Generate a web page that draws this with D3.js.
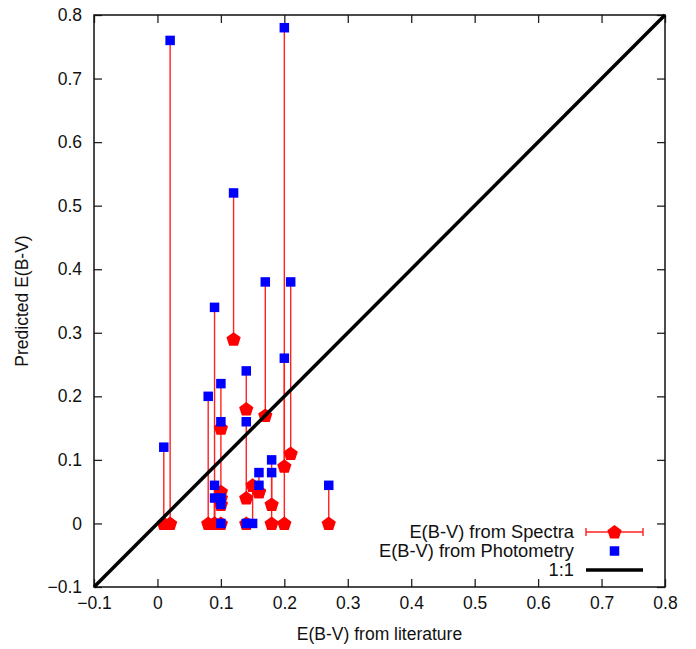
<!DOCTYPE html>
<html><head><meta charset="utf-8">
<script src="https://cdn.jsdelivr.net/npm/d3@7"></script>
<style>body{margin:0;background:#fff}svg{display:block}text{font-family:"Liberation Sans",Arial,sans-serif}</style>
</head><body>
<svg id="c" width="696" height="649"></svg>
<script>
// Literature E(B-V) for each object
const literature = [0.01,0.02,0.08,0.09,0.09,0.09,0.10,0.10,0.10,0.10,0.10,0.12,0.14,0.14,0.14,0.15,0.16,0.16,0.17,0.18,0.18,0.20,0.20,0.21,0.27];
// E(B-V) from spectra (pentagons)
const spectra    = [0.00,0.00,0.00,0.00,0.00,0.00,0.15,0.05,0.04,0.03,0.00,0.29,0.18,0.04,0.00,0.06,0.05,0.05,0.17,0.03,0.00,0.00,0.09,0.11,0.00];
// E(B-V) from photometry (squares)
const photometry = [0.12,0.76,0.20,0.34,0.06,0.04,0.22,0.16,0.04,0.03,0.00,0.52,0.24,0.16,0.00,0.00,0.08,0.06,0.38,0.10,0.08,0.78,0.26,0.38,0.06];
const ticks = [-0.1,0,0.1,0.2,0.3,0.4,0.5,0.6,0.7,0.8];
const legendLabels = ["E(B-V) from Spectra","E(B-V) from Photometry","1:1"];

const FS = 17.5, LFS = 18.3;
const svg = d3.select("#c");
const L=94, R=665, T=15, B=587;
const x = d3.scaleLinear().domain([-0.1,0.8]).range([L,R]);
const y = d3.scaleLinear().domain([-0.1,0.8]).range([B,T]);
const fmt = d => d===0 ? "0" : d3.format(".1f")(d);

// axes
const gx = svg.append("g").attr("transform",`translate(0,${B})`)
  .call(d3.axisBottom(x).tickValues(ticks).tickFormat(fmt).tickSizeInner(-8).tickSizeOuter(0).tickPadding(10));
const gy = svg.append("g").attr("transform",`translate(${L},0)`)
  .call(d3.axisLeft(y).tickValues(ticks).tickFormat(fmt).tickSizeInner(-8).tickSizeOuter(0).tickPadding(12));
const gx2 = svg.append("g").attr("transform",`translate(0,${T})`)
  .call(d3.axisTop(x).tickValues(ticks).tickFormat("").tickSizeInner(-8).tickSizeOuter(0));
const gy2 = svg.append("g").attr("transform",`translate(${R},0)`)
  .call(d3.axisRight(y).tickValues(ticks).tickFormat("").tickSizeInner(-8).tickSizeOuter(0));
[gx,gy,gx2,gy2].forEach(g=>{
  g.select(".domain").remove();
  g.selectAll("line").attr("stroke","#222").attr("stroke-width",1.3);
  g.selectAll("text").attr("font-size",FS).attr("fill","#111");
});
svg.append("rect").attr("x",L).attr("y",T).attr("width",R-L).attr("height",B-T)
  .attr("fill","none").attr("stroke","#111").attr("stroke-width",1.5);

// axis titles
svg.append("text").attr("x",(L+R)/2).attr("y",640).attr("text-anchor","middle")
  .attr("font-size",FS).attr("fill","#111").text("E(B-V) from literature");
svg.append("text").attr("transform",`translate(28,${(T+B)/2}) rotate(-90)`).attr("text-anchor","middle")
  .attr("font-size",FS).attr("fill","#111").text("Predicted E(B-V)");

const plot = svg.append("g");
const data = literature.map((l,i)=>({l, s:spectra[i], p:photometry[i]}));
function pentagon(cx,cy,r){
  const pts=[];
  for(let k=0;k<5;k++){const a=-Math.PI/2+k*2*Math.PI/5;pts.push([cx+r*Math.cos(a),cy+r*Math.sin(a)]);}
  return "M"+pts.map(p=>p.join(",")).join("L")+"Z";
}
// error bar lines
plot.selectAll("line.eb").data(data).join("line").attr("class","eb")
  .attr("x1",d=>x(d.l)).attr("x2",d=>x(d.l)).attr("y1",d=>y(d.s)).attr("y2",d=>y(d.p))
  .attr("stroke","#ff2020").attr("stroke-width",1.4);
// pentagons
plot.selectAll("path.sp").data(data).join("path").attr("class","sp")
  .attr("d",d=>pentagon(x(d.l),y(d.s)+0.5,7.5)).attr("fill","#ff0000");
// squares
plot.selectAll("rect.ph").data(data).join("rect").attr("class","ph")
  .attr("x",d=>x(d.l)-4.75).attr("y",d=>y(d.p)-4.75).attr("width",9.5).attr("height",9.5).attr("fill","#0000ff");
// 1:1 line
plot.append("line").attr("x1",x(-0.1)).attr("y1",y(-0.1)).attr("x2",x(0.8)).attr("y2",y(0.8))
  .attr("stroke","#000").attr("stroke-width",3.5);

// legend
const lg = svg.append("g");
const rowsY=[532,551,570], textX=574, s1=586, s2=643, mid=(s1+s2)/2;
legendLabels.forEach((t,i)=>{
  lg.append("text").attr("x",textX).attr("y",rowsY[i]).attr("dy","0.35em").attr("text-anchor","end")
    .attr("font-size",LFS).attr("fill","#111").text(t);
});
lg.append("line").attr("x1",s1).attr("x2",s2).attr("y1",rowsY[0]).attr("y2",rowsY[0]).attr("stroke","#ff2020").attr("stroke-width",1.4);
[s1,s2].forEach(xx=>lg.append("line").attr("x1",xx).attr("x2",xx).attr("y1",rowsY[0]-4).attr("y2",rowsY[0]+4).attr("stroke","#ff2020").attr("stroke-width",1.4));
lg.append("path").attr("d",pentagon(mid,rowsY[0]+0.5,7.5)).attr("fill","#ff0000");
lg.append("rect").attr("x",mid-4.75).attr("y",rowsY[1]-4.75).attr("width",9.5).attr("height",9.5).attr("fill","#0000ff");
lg.append("line").attr("x1",s1).attr("x2",s2).attr("y1",rowsY[2]).attr("y2",rowsY[2]).attr("stroke","#000").attr("stroke-width",3.5);
</script>
</body></html>
